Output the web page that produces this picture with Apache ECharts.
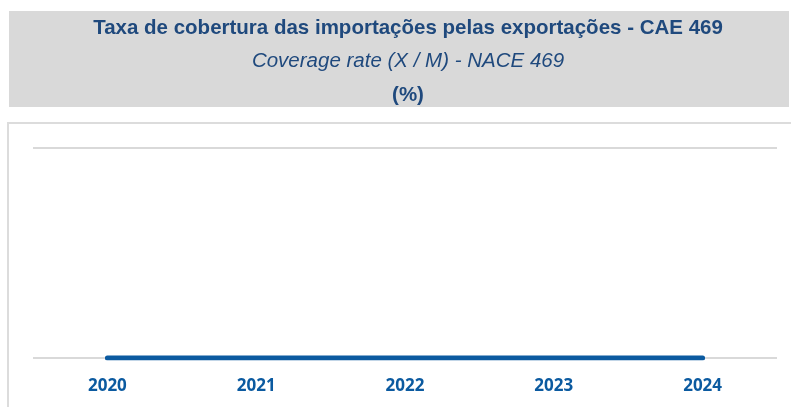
<!DOCTYPE html>
<html>
<head>
<meta charset="utf-8">
<script src="https://cdn.jsdelivr.net/npm/echarts@6/dist/echarts.min.js"></script>
<style>html,body{margin:0;padding:0;background:#fff;}#c{width:791px;height:407px;}</style>
</head>
<body>
<div id="c"></div>
<script>
var categories = ['2020', '2021', '2022', '2023', '2024'];
var coverageValues = [0, 0, 0, 0, 0];
var titleMain = 'Taxa de cobertura das importações pelas exportações - CAE 469';
var titleSub = 'Coverage rate (X / M) - NACE 469';
var titleUnit = '(%)';

var chart = echarts.init(document.getElementById('c'));
chart.setOption({
  animation: false,
  backgroundColor: '#ffffff',
  graphic: [
    { type: 'rect', shape: { x: 9, y: 11, width: 780, height: 96 }, style: { fill: '#d9d9d9' }, z: 0 },
    { type: 'rect', shape: { x: 8, y: 123, width: 800, height: 300 }, style: { fill: 'none', stroke: '#dcdcdc', lineWidth: 2 }, z: 0 },
    { type: 'text', x: 408, y: 28, style: { text: titleMain, fill: '#1f497d', font: 'bold 20.5px "Liberation Sans", Arial, sans-serif', align: 'center', verticalAlign: 'middle' }, z: 5 },
    { type: 'text', x: 408, y: 61, style: { text: titleSub, fill: '#1f497d', font: 'italic 20.5px "Liberation Sans", Arial, sans-serif', align: 'center', verticalAlign: 'middle' }, z: 5 },
    { type: 'text', x: 408, y: 95, style: { text: titleUnit, fill: '#1f497d', font: 'bold 20.5px "Liberation Sans", Arial, sans-serif', align: 'center', verticalAlign: 'middle' }, z: 5 }
  ],
  grid: { left: 33, right: 14, top: 148, bottom: 49, containLabel: false },
  xAxis: {
    type: 'category',
    data: categories,
    boundaryGap: true,
    axisLine: { show: false },
    axisTick: { show: false },
    axisLabel: { color: '#0b5aa0', fontFamily: '"Open Sans", sans-serif', fontWeight: 'bold', fontSize: 17, margin: 20 }
  },
  yAxis: {
    type: 'value',
    min: 0, max: 1, interval: 1,
    axisLine: { show: false },
    axisTick: { show: false },
    axisLabel: { show: false },
    splitLine: { lineStyle: { color: '#d9d9d9', width: 2 } }
  },
  series: [{
    type: 'line',
    data: coverageValues,
    symbol: 'none',
    lineStyle: { color: '#0b5aa0', width: 5, cap: 'round' },
    z: 3
  }]
});
</script>
</body>
</html>
